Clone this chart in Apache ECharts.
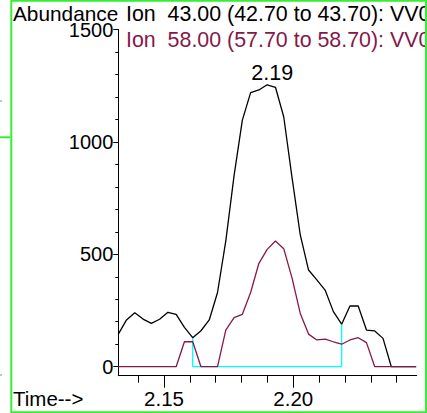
<!DOCTYPE html>
<html><head><meta charset="utf-8">
<script src="https://cdn.jsdelivr.net/npm/echarts@6/dist/echarts.min.js"></script>
<style>html,body{margin:0;padding:0;background:#fff}#c{width:427px;height:413px}</style>
</head><body><div id="c"></div>
<script>
// retention time of each scan (min)
const times = [2.1323,2.1355,2.1387,2.1419,2.1451,2.1483,2.1515,2.1547,2.1579,2.1611,
  2.1643,2.1675,2.1707,2.1739,2.1771,2.1803,2.1835,2.1867,2.1899,2.1931,
  2.1963,2.1995,2.2027,2.2059,2.2091,2.2123,2.2155,2.2187,2.2219,2.2251,
  2.2283,2.2315,2.2347,2.2379,2.2411,2.2443,2.2475];
// Ion 43.00 abundance
const ion43 = [144,208,240,212,193,211,242,233,175,129,
  160,208,330,560,850,1097,1219,1231,1254,1243,
  1112,842,586,430,386,341,245,189,270,270,
  163,159,126,0,0,0,0];
// Ion 58.00 abundance
const ion58 = [0,0,0,0,0,0,0,0,111,111,
  0,0,0,163,218,233,330,460,522,559,
  525,395,237,145,119,123,111,100,119,129,
  107,0,0,0,0,0,0];
// integration baseline start / end scan index
const baseStart = 9, baseEnd = 27;
// axis ticks and labels
const xTicks = [2.14,2.15,2.16,2.17,2.18,2.19,2.20,2.21,2.22,2.23,2.24];
const xMajor = [2.15,2.20];
const yTicks = [0,100,200,300,400,500,600,700,800,900,1000,1100,1200,1300,1400,1500];
const yMajor = [0,500,1000,1500];
const xRange = [2.13233, 2.24772];
const yRange = [-40, 1500];
const yName = 'Abundance';
const xName = 'Time-->';
const ion43Label = 'Ion  43.00 (42.70 to 43.70): VV0';
const ion58Label = 'Ion  58.00 (57.70 to 58.70): VV0';

const FONT = "'Liberation Sans', Arial, sans-serif";
const MAROON = '#861849';
const chart = echarts.init(document.getElementById('c'), null, {renderer: 'svg'});

const pairs = a => times.map((t, i) => [t, a[i]]);
let pk = 0;
ion43.forEach((v, i) => { if (v > ion43[pk]) pk = i; });
const baseline = [
  [times[baseStart], ion43[baseStart]],
  [times[baseStart], 0],
  [times[baseEnd], 0],
  [times[baseEnd], ion43[baseEnd]]
];

const axisCommon = {
  type: 'value', splitLine: {show: false}, gridIndex: 0
};
chart.setOption({
  animation: false,
  backgroundColor: '#fff',
  grid: {left: 118.3, top: 29.5, right: 10.3, bottom: 37.3, containLabel: false},
  xAxis: [
    Object.assign({}, axisCommon, {
      min: xRange[0], max: xRange[1], position: 'bottom',
      axisLine: {show: true, onZero: false, lineStyle: {color: '#000', width: 1}},
      axisTick: {show: true, customValues: xTicks, length: 7, lineStyle: {color: '#000', width: 1}},
      axisLabel: {show: false}
    }),
    Object.assign({}, axisCommon, {
      min: xRange[0], max: xRange[1], position: 'bottom', offset: 0,
      axisLine: {show: false, onZero: false},
      axisTick: {show: true, customValues: xMajor, length: 12, lineStyle: {color: '#000', width: 1}},
      axisLabel: {show: true, customValues: xMajor, margin: 12, fontSize: 20.5, fontFamily: FONT, color: '#000',
        formatter: v => v.toFixed(2)}
    })
  ],
  yAxis: [
    Object.assign({}, axisCommon, {
      min: yRange[0], max: yRange[1], position: 'left',
      axisLine: {show: true, onZero: false, lineStyle: {color: '#000', width: 1}},
      axisTick: {show: true, customValues: yTicks, length: 3, lineStyle: {color: '#000', width: 1}},
      axisLabel: {show: false}
    }),
    Object.assign({}, axisCommon, {
      min: yRange[0], max: yRange[1], position: 'left', offset: 0,
      axisLine: {show: false, onZero: false},
      axisTick: {show: true, customValues: yMajor, length: 5, lineStyle: {color: '#000', width: 1}},
      axisLabel: {show: true, customValues: yMajor, margin: 5, fontSize: 20, fontFamily: FONT, color: '#000',
        formatter: v => String(v)}
    })
  ],
  series: [
    {type: 'line', xAxisIndex: 0, yAxisIndex: 0, data: baseline, showSymbol: false, symbol: 'none',
      lineStyle: {color: '#00ffff', width: 1.3}, z: 1},
    {type: 'line', xAxisIndex: 0, yAxisIndex: 0, data: pairs(ion43), showSymbol: false, symbol: 'none',
      lineStyle: {color: '#000', width: 1.3}, z: 2,
      markPoint: {symbol: 'circle', symbolSize: 0,
        data: [{coord: [times[pk], ion43[pk]], value: times[pk]}],
        label: {show: true, position: 'top', distance: 1, offset: [5, 0], fontSize: 21.5, fontFamily: FONT, color: '#000',
          formatter: p => Number(p.value).toFixed(2)}}},
    {type: 'line', xAxisIndex: 0, yAxisIndex: 0, data: pairs(ion58), showSymbol: false, symbol: 'none',
      lineStyle: {color: MAROON, width: 1.3}, z: 3}
  ],
  graphic: [
    {type: 'text', left: 13, top: 3, style: {text: yName, font: '20.8px ' + FONT, fill: '#000'}},
    {type: 'text', left: 126, top: 3, style: {text: ion43Label, font: '21.4px ' + FONT, fill: '#000'}},
    {type: 'text', left: 126, top: 29, style: {text: ion58Label, font: '21.4px ' + FONT, fill: MAROON}},
    {type: 'text', left: 13, top: 388, style: {text: xName, font: '20.5px ' + FONT, fill: '#000'}},
    {type: 'rect', shape: {x: 11.3, y: 0.8, width: 414.7, height: 411.5}, style: {fill: 'none', stroke: '#33f033', lineWidth: 2}, z: 100},
    {type: 'line', shape: {x1: 0, y1: 137.3, x2: 10.3, y2: 137.3}, style: {stroke: '#33f033', lineWidth: 2}, z: 100},
    {type: 'line', shape: {x1: 0, y1: 101, x2: 2, y2: 101}, style: {stroke: '#888', lineWidth: 1}},
    {type: 'line', shape: {x1: 0, y1: 375, x2: 2, y2: 375}, style: {stroke: '#888', lineWidth: 1}}
  ]
});
</script></body></html>
